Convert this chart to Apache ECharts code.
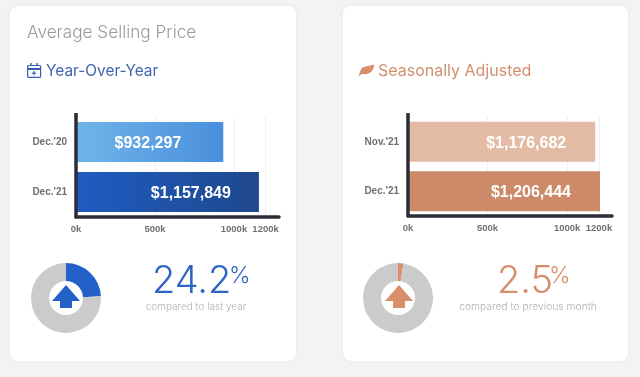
<!DOCTYPE html>
<html>
<head>
<meta charset="utf-8">
<title>Average Selling Price</title>
<script src="https://cdn.jsdelivr.net/npm/echarts@6/dist/echarts.min.js"></script>
<style>
  html, body { margin: 0; padding: 0; background: #f2f3f5; }
  #chart { width: 640px; height: 377px; }
</style>
</head>
<body>
<div id="chart"></div>
<script>
var yoyCategories = ["Dec.'20", "Dec.'21"]
var yoyValues = [932297, 1157849]
var seasonalCategories = ["Nov.'21", "Dec.'21"]
var seasonalValues = [1176682, 1206444]
var tickValues = [0, 500000, 1000000, 1200000]
var yoyChange = 24.2
var seasonalChange = 2.5

var sans = 'Liberation Sans'
var light = 'Inter'
var blue = '#2361c8'
var orange = '#d98f69'

function money(v) {
  return '$' + v.toLocaleString('en-US')
}

function hGrad(from, to) {
  return { type: 'linear', x: 0, y: 0, x2: 1, y2: 0, colorStops: [{ offset: 0, color: from }, { offset: 1, color: to }] }
}

function text(x, y, str, size, color, align, weight) {
  return {
    type: 'text', x: x, y: y, z: 5,
    style: { text: str, fontFamily: light, fontSize: size, fontWeight: weight || 300, fill: color, align: align || 'left', verticalAlign: 'middle' }
  }
}

function card(x, w) {
  return {
    type: 'rect', z: -1, shape: { x: x, y: 6, width: w, height: 355, r: 8 },
    style: { fill: '#fff', shadowBlur: 4, shadowColor: 'rgba(0,0,0,0.05)' }
  }
}

function arrow(cx, top, color) {
  return {
    type: 'polygon', z: 5,
    shape: { points: [[cx, top], [cx + 14, top + 16], [cx + 6, top + 16], [cx + 6, top + 23], [cx - 6, top + 23], [cx - 6, top + 16], [cx - 14, top + 16]] },
    style: { fill: color }
  }
}

function seg(x1, y1, x2, y2, color, width) {
  return { type: 'line', z: 5, shape: { x1: x1, y1: y1, x2: x2, y2: y2 }, style: { stroke: color, lineWidth: width } }
}

function calendar(x, y, color) {
  return {
    type: 'group', x: x, y: y, z: 5,
    children: [
      { type: 'rect', z: 5, shape: { x: 0.6, y: 2.5, width: 13, height: 11.9, r: 1 }, style: { fill: 'none', stroke: color, lineWidth: 1.2 } },
      seg(0.6, 6, 13.6, 6, color, 2),
      seg(4, 0, 4, 3, color, 1.4),
      seg(10, 0, 10, 3, color, 1.4),
      seg(7, 8, 7, 12.4, color, 1.1),
      seg(4.8, 10.2, 9.2, 10.2, color, 1.1)
    ]
  }
}

var grids = [
  { left: 76, top: 117, width: 203, height: 100 },
  { left: 408, top: 117, width: 204, height: 99 }
]

function xAxisFor(i, max) {
  return {
    type: 'value', gridIndex: i, min: 0, max: max, position: 'bottom',
    axisLine: { show: true, onZero: false, lineStyle: { color: '#2b2d38', width: 3.5 } },
    axisTick: { show: false, customValues: tickValues },
    splitLine: { show: true, lineStyle: { color: '#efefef', width: 1 } },
    axisLabel: {
      customValues: tickValues, margin: 7, fontFamily: sans, fontSize: 9.5, fontWeight: 'bold', color: '#707070',
      formatter: function (v) { return v / 1000 + 'k' }
    }
  }
}

function yAxisFor(i, cats) {
  return {
    type: 'category', gridIndex: i, data: cats, inverse: true, z: 3,
    axisLine: { show: true, lineStyle: { color: '#2b2d38', width: 3.5 } },
    axisTick: { show: false },
    axisLabel: { margin: 9, fontFamily: sans, fontSize: 10, fontWeight: 'bold', color: '#707070' }
  }
}

function barSeries(i, values, colors, gaps) {
  return {
    type: 'bar', xAxisIndex: i, yAxisIndex: i, barWidth: 40, silent: true,
    data: values.map(function (v, k) {
      return {
        value: v,
        itemStyle: { color: colors[k] },
        label: { show: true, position: 'insideRight', distance: gaps[k], offset: [0, 1.5], formatter: money(v), fontFamily: sans, fontSize: 16, fontWeight: 'bold', color: '#fff' }
      }
    })
  }
}

function donut(cx, value, color) {
  return {
    type: 'pie', center: [cx, 298], radius: [17, 35], startAngle: 90, silent: true,
    label: { show: false }, labelLine: { show: false },
    data: [
      { value: value, itemStyle: { color: color } },
      { value: 100 - value, itemStyle: { color: '#cbcbcb' } }
    ]
  }
}

var chart = echarts.init(document.getElementById('chart'))
chart.setOption({
  animation: false,
  backgroundColor: '#f2f3f5',
  grid: grids,
  xAxis: [xAxisFor(0, 1285000), xAxisFor(1, 1282000)],
  yAxis: [yAxisFor(0, yoyCategories), yAxisFor(1, seasonalCategories)],
  series: [
    barSeries(0, yoyValues, [hGrad('#70b5e8', '#4a8fdc'), hGrad('#1f5cc2', '#1f488e')], [42, 28]),
    barSeries(1, seasonalValues, ['#e3baa4', '#cd8a68'], [29, 29]),
    donut(66, yoyChange, blue),
    donut(398, seasonalChange, orange)
  ],
  graphic: [
    card(10, 286),
    card(343, 285),
    seg(76, 113, 76, 117, '#2b2d38', 3.5),
    seg(408, 113, 408, 117, '#2b2d38', 3.5),
    text(27, 33, 'Average Selling Price', 17.2, '#9a9a9a'),
    calendar(27, 63, '#3560b4'),
    text(46, 71, 'Year-Over-Year', 15.4, '#3f66b0', 'left', 400),
    {
      type: 'polygon', z: 5,
      shape: { points: [[359, 76], [362, 68], [368, 66], [374, 65], [372, 71], [367, 74], [362, 74]], smooth: 0.3 },
      style: { fill: '#d98f69' }
    },
    text(378, 71, 'Seasonally Adjusted', 16, '#d0906f', 'left', 400),
    arrow(66, 285, blue),
    arrow(399, 285, orange),
    text(152, 282, yoyChange.toFixed(1), 38, '#2f65c2'),
    text(229, 276, '%', 23, '#2f65c2'),
    text(196, 307, 'compared to last year', 10, '#b0b0b0', 'center'),
    text(497, 282, seasonalChange.toFixed(1), 38, '#d68e69'),
    text(549, 276, '%', 23, '#d68e69'),
    text(528, 307, 'compared to previous month', 10.3, '#b0b0b0', 'center')
  ]
})
</script>
</body>
</html>
